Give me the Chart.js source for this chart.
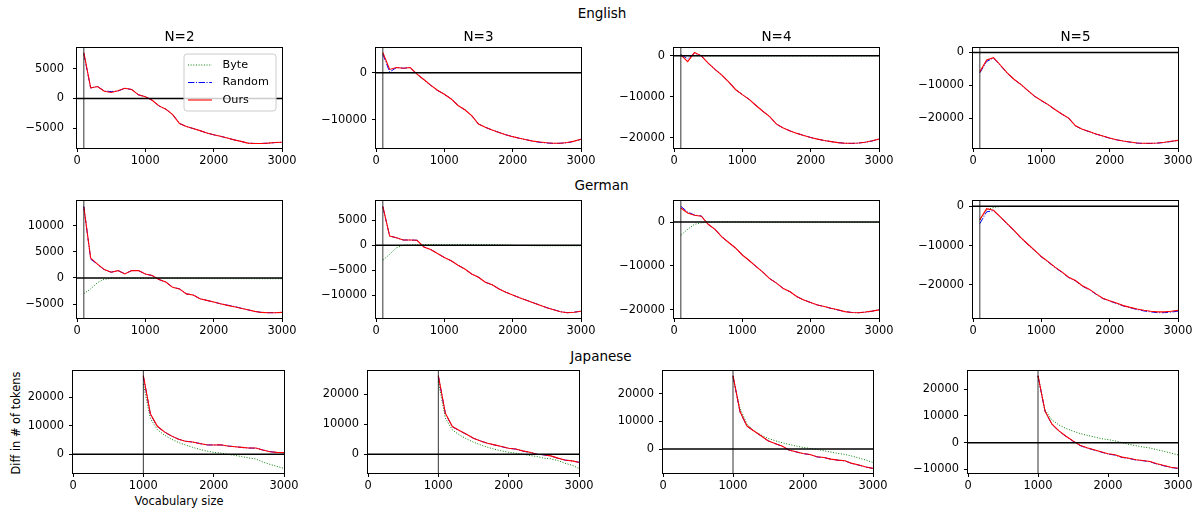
<!DOCTYPE html>
<html>
<head>
<meta charset="utf-8">
<script src="https://cdn.jsdelivr.net/npm/chart.js@4.4.1/dist/chart.umd.min.js"></script>
<style>
  body { margin: 0; background: #fff; width: 1199px; height: 510px; position: relative; overflow: hidden;
         font-family: "DejaVu Sans", sans-serif; color: #000; }
  .title { position: absolute; transform: translate(-50%, -50%); white-space: nowrap; font-size: 13.5px; line-height: 1; }
  .axis-label { position: absolute; white-space: nowrap; font-size: 11.4px; line-height: 1; }
  canvas { position: absolute; }
</style>
</head>
<body>
<div class="title" style="left:602px;top:13.5px">English</div>
<div class="title" style="left:601.5px;top:186px">German</div>
<div class="title" style="left:601px;top:356.5px">Japanese</div>
<div class="axis-label" style="left:179px;top:502px;transform:translate(-50%,-50%)">Vocabulary size</div>
<div class="axis-label" style="left:17px;top:423px;transform:translate(-50%,-50%) rotate(-90deg)">Diff in # of tokens</div>
<script>
// Vocabulary sizes (x values)
const vocabSizes = [100, 200, 300, 400, 500, 600, 700, 800, 900, 1000,
                    1100, 1200, 1300, 1400, 1500, 1600, 1700, 1800, 1900, 2000,
                    2100, 2200, 2300, 2400, 2500, 2600, 2700, 2800, 2900, 3000];
const vocabSizesJa = [1000, 1100, 1200, 1300, 1400, 1500, 1600, 1700, 1800, 1900, 2000,
                      2100, 2200, 2300, 2400, 2500, 2600, 2700, 2800, 2900, 3000];
const xTicks = [0, 1000, 2000, 3000];
const panelTitles = ['N=2', 'N=3', 'N=4', 'N=5'];
const seriesNames = ['Byte', 'Random', 'Ours'];

// English
const enN2Ours   = [7700, 1760, 2000, 1200, 1000, 1300, 1700, 1500, 600, 300, -300, -1250, -1800, -2700, -4200, -4700, -5050, -5400, -5800, -6100, -6350, -6650, -6950, -7200, -7500, -7550, -7550, -7500, -7400, -7350];
const enN2Random = [7500, 1760, 2000, 1250, 1150, 1250, 1700, 1500, 600, 300, -300, -1250, -1800, -2700, -4200, -4700, -5050, -5400, -5800, -6100, -6350, -6650, -6950, -7200, -7500, -7550, -7550, -7500, -7400, -7350];
const enN2Byte   = [0, 0, 0, 0, 0, 0, 0, 0, 0, 0, 0, 0, 0, 0, 0, 0, 0, 0, 0, 0, 0, 0, 0, 0, 0, 0, 0, 0, 0, 0];
const enN3Ours   = [4300, 700, 1100, 950, 1100, -300, -1450, -2650, -3750, -4600, -5600, -7000, -7900, -9150, -10950, -11650, -12250, -12750, -13250, -13650, -14000, -14300, -14600, -14800, -14950, -15050, -15050, -14900, -14600, -14200];
const enN3Random = [4000, 150, 1100, 950, 1100, -300, -1500, -2700, -3800, -4600, -5600, -7000, -7900, -9150, -10950, -11650, -12250, -12750, -13250, -13650, -14000, -14300, -14650, -14850, -15000, -15100, -15050, -14950, -14650, -14200];
const enN3Byte   = [0, 0, 0, 0, 0, 0, 0, 0, 0, 0, 0, 0, 0, 0, 0, 0, 0, 0, 0, 0, 0, 0, 0, 0, 0, 0, 0, 0, 0, 0];
const enN4Ours   = [250, -1400, 800, 0, -1800, -3300, -4700, -6350, -8200, -9450, -10600, -12100, -13500, -14800, -16650, -17600, -18300, -18900, -19400, -19900, -20300, -20650, -20900, -21150, -21300, -21300, -21250, -21050, -20700, -20300];
const enN4Random = [300, -700, 700, 0, -1800, -3300, -4700, -6350, -8200, -9450, -10600, -12100, -13500, -14800, -16650, -17600, -18300, -18900, -19400, -19900, -20300, -20650, -20900, -21150, -21300, -21350, -21250, -21050, -20750, -20300];
const enN4Byte   = [0, 0, 0, 0, 0, 0, 0, 0, 0, 0, 0, 0, 0, 0, 0, 0, 0, 0, 0, 0, 0, 0, 0, 0, 0, 0, 0, 0, 0, 0];
const enN5Ours   = [-5900, -2270, -1550, -3800, -6200, -8150, -9700, -11550, -13300, -14650, -15900, -17400, -18750, -20000, -22370, -23400, -24100, -24850, -25450, -26100, -26600, -27000, -27300, -27600, -27700, -27700, -27600, -27400, -27100, -26800];
const enN5Random = [-6200, -2700, -1700, -3900, -6300, -8250, -9750, -11600, -13350, -14700, -15950, -17450, -18800, -20050, -22400, -23450, -24150, -24900, -25500, -26150, -26650, -27050, -27350, -27650, -27750, -27750, -27650, -27450, -27150, -26850];
const enN5Byte   = [0, 0, 0, 0, 0, 0, 0, 0, 0, 0, 0, 0, 0, 0, 0, 0, 0, 0, 0, 0, 0, 0, 0, 0, 0, 0, 0, 0, 0, 0];

// German
const deN2Ours   = [13550, 3800, 2650, 1600, 1100, 1400, 750, 1400, 1400, 750, 450, -300, -800, -1800, -2100, -3050, -3250, -4000, -4300, -4600, -4950, -5250, -5500, -5800, -6100, -6400, -6600, -6650, -6650, -6600];
const deN2Random = [13700, 3600, 2600, 1550, 1100, 1400, 800, 1400, 1400, 750, 450, -300, -800, -1800, -2100, -3050, -3250, -4000, -4300, -4600, -4950, -5200, -5450, -5800, -6100, -6400, -6600, -6650, -6650, -6600];
const deN2Byte   = [-3000, -2100, -900, -250, -80, -60, -50, -60, -70, -70, -80, -80, -90, -90, -100, -100, -110, -120, -120, -130, -130, -130, -140, -140, -140, -150, -150, -150, -150, -150];
const deN3Ours   = [7800, 1850, 1500, 1050, 1050, 1000, -330, -850, -1650, -2450, -3100, -4000, -4750, -5750, -6400, -7400, -7900, -8750, -9400, -9950, -10500, -11000, -11500, -12000, -12500, -12900, -13300, -13500, -13400, -13200];
const deN3Random = [7700, 1850, 1500, 1050, 1050, 1000, -330, -850, -1650, -2450, -3100, -4000, -4750, -5750, -6400, -7400, -7900, -8750, -9400, -9950, -10500, -11000, -11500, -12000, -12500, -12900, -13300, -13500, -13400, -13200];
const deN3Byte   = [-3000, -1800, -500, 0, 50, 100, 150, 150, 150, 150, 150, 150, 150, 150, 150, 150, 150, 100, 50, 0, -50, -50, -100, -100, -100, -100, -100, -100, -100, -100];
const deN4Ours   = [3200, 2100, 1550, 1350, -500, -1650, -3350, -4650, -5900, -7500, -8750, -10100, -11400, -12900, -13900, -15150, -15900, -17000, -17750, -18350, -18900, -19250, -19650, -20000, -20400, -20600, -20650, -20500, -20300, -20000];
const deN4Random = [3600, 2300, 1600, 1400, -500, -1650, -3350, -4650, -5900, -7500, -8750, -10100, -11400, -12900, -13900, -15150, -15900, -17000, -17750, -18350, -18900, -19250, -19700, -20050, -20400, -20600, -20650, -20550, -20300, -20000];
const deN4Byte   = [-3000, -1650, -500, -150, -50, 0, 50, 50, 50, 0, 0, 0, -50, -50, -50, -50, -50, -50, -50, -50, -50, -50, -50, -50, -50, -50, -50, -50, -50, -50];
const deN5Ours   = [-3400, -600, -1000, -2700, -4400, -6100, -8000, -9600, -11150, -12800, -14100, -15500, -16700, -18050, -18900, -20250, -21100, -22300, -23400, -24050, -24650, -25300, -25750, -26150, -26500, -26750, -26900, -26900, -26750, -26500];
const deN5Random = [-4400, -1400, -1100, -2800, -4500, -6200, -8100, -9700, -11250, -12900, -14200, -15600, -16800, -18150, -19000, -20350, -21200, -22400, -23500, -24150, -24750, -25400, -25850, -26300, -26650, -26900, -27100, -27100, -26950, -26700];
const deN5Byte   = [-3500, -900, -300, -50, 0, 0, 0, 0, 0, 0, 0, 0, 0, 0, 0, 0, 0, 0, 0, 0, 0, 0, 0, 0, 0, 0, 0, 0, 0, 0];

// Japanese
const jaN2Ours   = [27500, 14200, 9800, 7850, 6450, 5300, 4600, 4300, 3800, 3350, 3250, 3350, 2900, 2650, 2450, 2200, 2200, 1500, 900, 700, 600];
const jaN2Random = [27300, 14000, 9700, 7800, 6400, 5300, 4600, 4300, 3800, 3300, 3250, 3300, 2900, 2700, 2400, 2200, 2150, 1500, 950, 650, 550];
const jaN2Byte   = [24600, 12500, 8650, 6700, 5300, 4150, 3250, 2450, 1750, 1150, 700, 450, 0, -350, -800, -1250, -1600, -2700, -3500, -4200, -4900];
const jaN3Ours   = [26100, 13600, 9200, 7850, 6650, 5300, 4400, 3650, 3100, 2550, 2000, 1750, 1100, 650, 0, -200, -550, -1300, -1900, -2200, -2650];
const jaN3Random = [26000, 13500, 9100, 7800, 6600, 5300, 4400, 3600, 3050, 2500, 1950, 1700, 1050, 600, 0, -250, -600, -1350, -1950, -2250, -2700];
const jaN3Byte   = [24100, 11950, 8050, 6400, 5100, 4000, 3100, 2300, 1650, 1100, 650, 350, 0, -450, -750, -1300, -1550, -2100, -3000, -3650, -4700];
const jaN4Ours   = [26650, 13600, 8350, 6550, 4850, 3050, 2050, 1100, -350, -950, -1600, -1950, -2800, -3050, -3650, -4000, -4250, -5200, -5800, -6500, -7000];
const jaN4Random = [26500, 13500, 8300, 6500, 4800, 3000, 2000, 1000, -400, -1000, -1650, -2000, -2850, -3100, -3700, -4050, -4300, -5250, -5850, -6550, -7000];
const jaN4Byte   = [25700, 14800, 9100, 6550, 5100, 3900, 3050, 2300, 1700, 1100, 600, 250, -100, -600, -1100, -1600, -1950, -2550, -3250, -4000, -4850];
const jaN5Ours   = [25000, 11800, 6900, 4400, 2400, 650, -1000, -1900, -2650, -3400, -4150, -4550, -5400, -5800, -6400, -6650, -7050, -7900, -8550, -9200, -9550];
const jaN5Random = [24900, 11700, 6800, 4300, 2300, 550, -1100, -2000, -2750, -3500, -4250, -4650, -5500, -5900, -6500, -6750, -7150, -8000, -8650, -9300, -9600];
const jaN5Byte   = [24800, 12200, 8450, 6550, 5300, 4300, 3400, 2750, 2150, 1500, 1150, 650, 0, -650, -1150, -1650, -2000, -2650, -3250, -3900, -4550];

// Y tick values per panel
const enYTicks = [[-5000, 0, 5000], [-10000, 0], [-20000, -10000, 0], [-20000, -10000, 0]];
const deYTicks = [[-5000, 0, 5000, 10000], [-10000, -5000, 0, 5000], [-20000, -10000, 0], [-20000, -10000, 0]];
const jaYTicks = [[0, 10000, 20000], [0, 10000, 20000], [0, 10000, 20000], [-10000, 0, 10000, 20000]];

// Reference vertical marker per language (initial vocabulary size)
const enMarker = 100, deMarker = 100, jaMarker = 1000;

// ---- layout ----
const Y_AXIS_W = 62, X_AXIS_H = 24, PAD_TOP = 8, PAD_RIGHT = 18;
const FONT = '"DejaVu Sans", sans-serif';
const TICK_SIZE = 11.4;

const rowsLayout = [
  { top: 48,  bottom: 148, cols: [[77, 282], [376, 581], [674, 879], [973, 1178]] },
  { top: 201, bottom: 318, cols: [[77, 282], [376, 581], [674, 879], [973, 1178]] },
  { top: 371, bottom: 473, cols: [[73, 284], [368, 579], [663, 873], [968, 1178]] }
];

const panels = [
  { row: 0, col: 0, x: vocabSizes, byte: enN2Byte, random: enN2Random, ours: enN2Ours, yTicks: enYTicks[0], marker: enMarker, legend: true, title: panelTitles[0], gap: 9 },
  { row: 0, col: 1, x: vocabSizes, byte: enN3Byte, random: enN3Random, ours: enN3Ours, yTicks: enYTicks[1], marker: enMarker, title: panelTitles[1], gap: 5 },
  { row: 0, col: 2, x: vocabSizes, byte: enN4Byte, random: enN4Random, ours: enN4Ours, yTicks: enYTicks[2], marker: enMarker, title: panelTitles[2], gap: 5 },
  { row: 0, col: 3, x: vocabSizes, byte: enN5Byte, random: enN5Random, ours: enN5Ours, yTicks: enYTicks[3], marker: enMarker, title: panelTitles[3], gap: 5 },
  { row: 1, col: 0, x: vocabSizes, byte: deN2Byte, random: deN2Random, ours: deN2Ours, yTicks: deYTicks[0], marker: deMarker, gap: 9 },
  { row: 1, col: 1, x: vocabSizes, byte: deN3Byte, random: deN3Random, ours: deN3Ours, yTicks: deYTicks[1], marker: deMarker, gap: 5 },
  { row: 1, col: 2, x: vocabSizes, byte: deN4Byte, random: deN4Random, ours: deN4Ours, yTicks: deYTicks[2], marker: deMarker, gap: 5 },
  { row: 1, col: 3, x: vocabSizes, byte: deN5Byte, random: deN5Random, ours: deN5Ours, yTicks: deYTicks[3], marker: deMarker, gap: 5 },
  { row: 2, col: 0, x: vocabSizesJa, byte: jaN2Byte, random: jaN2Random, ours: jaN2Ours, yTicks: jaYTicks[0], marker: jaMarker, gap: 5 },
  { row: 2, col: 1, x: vocabSizesJa, byte: jaN3Byte, random: jaN3Random, ours: jaN3Ours, yTicks: jaYTicks[1], marker: jaMarker, gap: 5 },
  { row: 2, col: 2, x: vocabSizesJa, byte: jaN4Byte, random: jaN4Random, ours: jaN4Ours, yTicks: jaYTicks[2], marker: jaMarker, gap: 5 },
  { row: 2, col: 3, x: vocabSizesJa, byte: jaN5Byte, random: jaN5Random, ours: jaN5Ours, yTicks: jaYTicks[3], marker: jaMarker, gap: 5 }
];

const styles = {
  Byte:   { color: '#008000', dash: [1, 1.65], width: 1 },
  Random: { color: '#0000ff', dash: [6.4, 1.6, 1, 1.6], width: 1 },
  Ours:   { color: '#ff0000', dash: [], width: 1.1 }
};

const fmt = v => (v < 0 ? '\u2212' + Math.abs(v) : String(v));

// Frame, zero line, marker line and legend drawn in chart coordinates
const decorations = {
  id: 'decorations',
  afterDatasetsDraw(chart, args, opts) {
    const { ctx, chartArea: a, scales: { x, y } } = chart;
    ctx.save();
    // vertical marker
    const mx = x.getPixelForValue(opts.marker);
    ctx.strokeStyle = '#000';
    ctx.lineWidth = 0.8;
    ctx.beginPath(); ctx.moveTo(mx, a.top); ctx.lineTo(mx, a.bottom); ctx.stroke();
    // zero line
    const zy = y.getPixelForValue(0);
    ctx.lineWidth = 1.5;
    ctx.beginPath(); ctx.moveTo(a.left, zy); ctx.lineTo(a.right, zy); ctx.stroke();
    // frame
    ctx.lineWidth = 1;
    ctx.strokeRect(a.left - 0.5, a.top - 0.5, a.right - a.left + 1, a.bottom - a.top + 1);
    if (opts.legend) {
      const bw = 92, bh = 57, bx = a.right - 6 - bw, by = a.top + 6, r = 3;
      ctx.beginPath();
      ctx.moveTo(bx + r, by); ctx.lineTo(bx + bw - r, by); ctx.arcTo(bx + bw, by, bx + bw, by + r, r);
      ctx.lineTo(bx + bw, by + bh - r); ctx.arcTo(bx + bw, by + bh, bx + bw - r, by + bh, r);
      ctx.lineTo(bx + r, by + bh); ctx.arcTo(bx, by + bh, bx, by + bh - r, r);
      ctx.lineTo(bx, by + r); ctx.arcTo(bx, by, bx + r, by, r); ctx.closePath();
      ctx.fillStyle = 'rgba(255,255,255,0.8)'; ctx.fill();
      ctx.strokeStyle = '#cccccc'; ctx.lineWidth = 1; ctx.stroke();
      ctx.font = '11.2px ' + FONT; ctx.textBaseline = 'middle'; ctx.textAlign = 'left';
      seriesNames.forEach((name, i) => {
        const s = styles[name], ly = by + 11 + i * 17.5;
        ctx.strokeStyle = s.color; ctx.lineWidth = s.width; ctx.setLineDash(s.dash);
        ctx.beginPath(); ctx.moveTo(bx + 4, ly); ctx.lineTo(bx + 28, ly); ctx.stroke();
        ctx.setLineDash([]);
        ctx.fillStyle = '#000'; ctx.fillText(name, bx + 38.5, ly);
      });
    }
    ctx.restore();
  }
};

panels.forEach(p => {
  const rl = rowsLayout[p.row];
  const [left, right] = rl.cols[p.col];
  const cw = right - left + Y_AXIS_W + PAD_RIGHT;
  const ch = rl.bottom - rl.top + PAD_TOP + X_AXIS_H;
  const cv = document.createElement('canvas');
  cv.width = cw; cv.height = ch;
  cv.style.left = (left - Y_AXIS_W) + 'px';
  cv.style.top = (rl.top - PAD_TOP) + 'px';
  cv.style.width = cw + 'px'; cv.style.height = ch + 'px';
  document.body.appendChild(cv);

  if (p.title) {
    const t = document.createElement('div');
    t.className = 'title';
    t.textContent = p.title;
    t.style.left = ((left + right) / 2) + 'px';
    t.style.top = '36.7px';
    document.body.appendChild(t);
  }

  const all = [...p.byte, ...p.random, ...p.ours, 0];
  const lo = Math.min(...all), hi = Math.max(...all), m = (hi - lo) * 0.05;
  const series = { Byte: p.byte, Random: p.random, Ours: p.ours };
  const datasets = seriesNames.map((name, i) => ({
    label: name,
    data: p.x.map((v, k) => ({ x: v, y: series[name][k] })),
    borderColor: styles[name].color,
    borderDash: styles[name].dash,
    borderWidth: styles[name].width,
    order: 3 - i
  }));

  new Chart(cv, {
    type: 'line',
    data: { datasets },
    options: {
      responsive: false, animation: false, devicePixelRatio: 1,
      layout: { padding: { top: PAD_TOP, right: PAD_RIGHT, left: 0, bottom: 0 } },
      elements: { point: { radius: 0 }, line: { tension: 0, fill: false } },
      plugins: { legend: { display: false }, tooltip: { enabled: false },
                 decorations: { marker: p.marker, legend: !!p.legend } },
      scales: {
        x: {
          type: 'linear', min: 0, max: 3000,
          afterBuildTicks: s => { s.ticks = xTicks.map(v => ({ value: v })); },
          afterFit: s => { s.height = X_AXIS_H; s.paddingLeft = 0; s.paddingRight = 0; },
          grid: { drawOnChartArea: false, drawTicks: true, tickLength: 4, color: '#000' },
          border: { display: false },
          ticks: { color: '#000', font: { family: FONT, size: TICK_SIZE }, padding: 2, maxRotation: 0, autoSkip: false, callback: fmt }
        },
        y: {
          type: 'linear', min: lo - m, max: hi + m,
          afterBuildTicks: s => { s.ticks = p.yTicks.map(v => ({ value: v })); },
          afterFit: s => { s.width = Y_AXIS_W; s.paddingTop = 0; s.paddingBottom = 0; },
          grid: { drawOnChartArea: false, drawTicks: true, tickLength: 4, color: '#000' },
          border: { display: false },
          ticks: { color: '#000', font: { family: FONT, size: TICK_SIZE }, padding: p.gap, autoSkip: false, callback: fmt }
        }
      }
    },
    plugins: [decorations]
  });
});
</script>
</body>
</html>
